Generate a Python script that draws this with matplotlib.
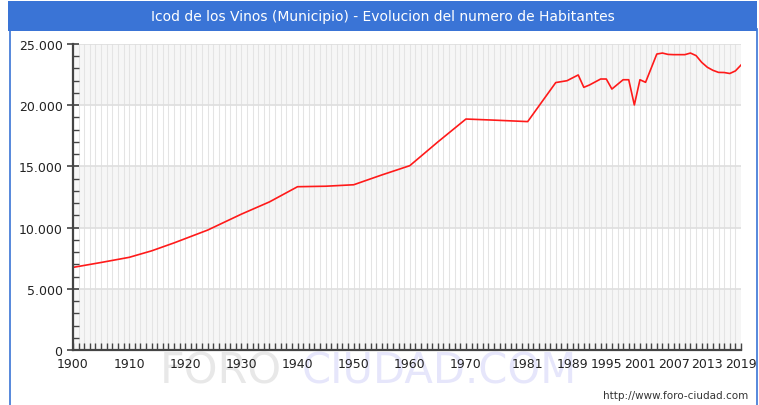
import matplotlib
matplotlib.use("Agg")
import matplotlib.pyplot as plt
from matplotlib.patches import Rectangle
from matplotlib.lines import Line2D
from matplotlib.ticker import FuncFormatter, MultipleLocator, FixedLocator

# Data
years = [1900, 1905, 1910, 1914, 1918, 1924, 1930, 1935, 1940, 1945, 1950, 1955,
         1960, 1965, 1970, 1975, 1981, 1986, 1988, 1990, 1991, 1992, 1994, 1995,
         1996, 1998, 1999, 2000, 2001, 2002, 2004, 2005, 2006, 2007, 2008, 2009,
         2010, 2011, 2012, 2013, 2014, 2015, 2016, 2017, 2018, 2019]
habitantes = [6750, 7150, 7570, 8100, 8750, 9800, 11100, 12100, 13340, 13380, 13500, 14300,
              15060, 17000, 18870, 18780, 18660, 21850, 22000, 22470, 21460, 21650, 22140, 22140,
              21320, 22080, 22080, 20020, 22080, 21870, 24180, 24260, 24150, 24130, 24130, 24130,
              24260, 24050, 23500, 23100, 22850, 22680, 22670, 22590, 22800, 23280]
xtick_years = [1900, 1910, 1920, 1930, 1940, 1950, 1960, 1970, 1981, 1989, 1995, 2001, 2007, 2013, 2019]
ytick_values = [0, 5000, 10000, 15000, 20000, 25000]
title = "Icod de los Vinos (Municipio) - Evolucion del numero de Habitantes"

W, H = 759, 406
fig = plt.figure(figsize=(W / 100, H / 100), dpi=100)
fig.patch.set_facecolor("white")

blue = "#3a74d6"
# title bar and frame
fig.add_artist(Rectangle((8 / W, 1 - 32 / H), (757 - 8) / W, 30 / H, transform=fig.transFigure,
                         facecolor=blue, edgecolor="none", zorder=-10))
fig.add_artist(Line2D([9.5 / W, 9.5 / W], [0, 1 - 30 / H], transform=fig.transFigure, color=blue, lw=1.2))
fig.add_artist(Line2D([756.5 / W, 756.5 / W], [0, 1 - 30 / H], transform=fig.transFigure, color=blue, lw=1.2))
fig.text(383 / W, 1 - 17 / H, title, color="white", ha="center", va="center", fontsize=10, family="DejaVu Sans")

# watermark (behind everything)
fig.text(160 / W, 1 - 372 / H, "FORO", color="#e8e8e8", fontsize=31, ha="left", va="center", zorder=-5)
fig.text(302 / W, 1 - 372 / H, "CIUDAD.COM", color="#e6e6fb", fontsize=30, ha="left", va="center", zorder=-5)
fig.text(748 / W, 1 - 396 / H, "http://www.foro-ciudad.com", color="#333333", fontsize=7.5, ha="right", va="center")

left, right, top, bottom = 73, 741, 45, 351
ax = fig.add_axes([left / W, 1 - bottom / H, (right - left) / W, (bottom - top) / H])
ax.set_facecolor("none")
ax.set_xlim(1900, 2019)
ax.set_ylim(0, 25000)

# alternating bands
for i in range(0, 25000, 5000):
    if (i // 5000) % 2 == 0:
        ax.axhspan(i, i + 5000, color="#f6f6f6", zorder=0, lw=0)
# vertical grid every year
for y in range(1900, 2020):
    ax.axvline(y, color="#e4e4e4", lw=0.75, zorder=1)
for v in ytick_values[1:]:
    ax.axhline(v, color="#dedede", lw=1.2, zorder=1)

ax.plot(years, habitantes, color="#ff1a1a", lw=1.2, zorder=3)

for s in ["top", "right"]:
    ax.spines[s].set_visible(False)
for s in ["left", "bottom"]:
    ax.spines[s].set_color("#444444")
    ax.spines[s].set_linewidth(1.6)
    ax.spines[s].set_zorder(4)

ax.yaxis.set_major_locator(FixedLocator(ytick_values))
ax.yaxis.set_minor_locator(MultipleLocator(1000))
ax.yaxis.set_major_formatter(FuncFormatter(lambda v, p: f"{int(v):,}".replace(",", ".")))
ax.xaxis.set_major_locator(FixedLocator(xtick_years))
ax.xaxis.set_minor_locator(MultipleLocator(1))
ax.xaxis.set_major_formatter(FuncFormatter(lambda v, p: f"{int(round(v))}"))

ax.tick_params(axis="y", which="major", direction="inout", length=9, width=1.2, color="#444444",
               labelsize=9, pad=3, labelcolor="#222222")
ax.tick_params(axis="y", which="minor", direction="in", length=4, width=1, color="#444444")
ax.tick_params(axis="x", which="major", direction="in", length=5, width=1, color="#444444",
               labelsize=9, pad=5, labelcolor="#222222")
ax.tick_params(axis="x", which="minor", direction="in", length=5, width=1, color="#444444")

fig.savefig("out.png", dpi=100)
